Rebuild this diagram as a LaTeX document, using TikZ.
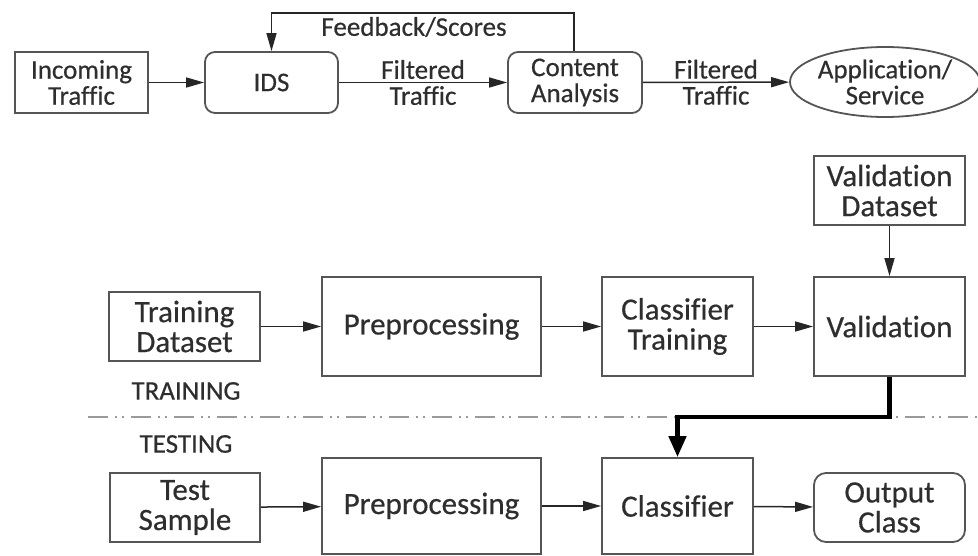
\documentclass[tikz,border=0pt]{standalone}
\usepackage{fontspec}
\setmainfont{Carlito}[Ligatures=NoCommon, FakeBold=0.5]
\usetikzlibrary{arrows.meta,shapes.geometric}
\definecolor{boxline}{HTML}{555555}
\definecolor{txt}{HTML}{2E2E2E}
\definecolor{sepline}{HTML}{9A9A9A}
\tikzset{
  base/.style={draw=boxline, line width=1.8pt, text=txt, align=center, inner sep=0pt},
  topbox/.style={base, rectangle, minimum width=133pt, minimum height=61pt,
    font=\fontsize{27}{26}\selectfont},
  roundbox/.style={topbox, rounded corners=10pt},
  lowbox/.style={base, rectangle, minimum width=151pt, minimum height=69pt,
    font=\fontsize{31}{30}\selectfont},
  bigbox/.style={base, rectangle, minimum width=151pt, minimum height=99pt,
    font=\fontsize{31}{30}\selectfont},
  flowlabel/.style={text=txt, align=center, font=\fontsize{27}{26}\selectfont},
  phase/.style={text=txt, font=\fontsize{27}{27}\selectfont},
  arrow/.style={draw=black!85, line width=1.5pt, -{Triangle[length=18pt,width=10pt]}},
  thickarrow/.style={draw=black, line width=4.5pt, -{Triangle[length=21pt,width=17pt]}},
}
\begin{document}
\begin{tikzpicture}[x=1pt, y=-1pt]
\useasboundingbox (0,0) rectangle (978,556);

% network filtering chain
\node[topbox] (inc) at (81.5,82.5) {Incoming\\Traffic};
\node[roundbox] (ids) at (271.5,82.5) {IDS};
\node[roundbox, minimum width=134pt] (ca) at (575,82.5) {Content\\Analysis};
\node[base, ellipse, minimum width=184pt, minimum height=70pt,
  font=\fontsize{27}{26}\selectfont] (app) at (885,82) {Application/\\Service};

\draw[arrow] (inc) -- (ids);
\draw[arrow] (ids) -- (ca) node[midway, flowlabel] {Filtered\\Traffic};
\draw[arrow] (ca) -- (app) node[midway, flowlabel] {Filtered\\Traffic};
\coordinate (fbtop) at (574,13);
\draw[arrow] (ca.north -| fbtop) -- (fbtop) -| (ids.north);
\node[flowlabel] (fblabel) at (414,27) {Feedback/Scores};

% training stage
\node[lowbox] (vd) at (889.5,190.5) {Validation\\Dataset};
\node[lowbox] (td) at (184.5,326.5) {Training\\Dataset};
\node[bigbox, minimum width=219pt] (pre1) at (431.5,326.5) {Preprocessing};
\node[bigbox] (ct) at (677.5,326.5) {Classifier\\Training};
\node[bigbox] (val) at (889.5,326.5) {Validation};

\draw[arrow] (td) -- (pre1);
\draw[arrow] (pre1) -- (ct);
\draw[arrow] (ct) -- (val);
\draw[arrow] (vd) -- (val);

% split between the two stages
\node[phase] (trainlabel) at (186,391) {TRAINING};
\node[phase] (testlabel) at (186,444) {TESTING};
\coordinate (sepL) at (88,417);
\coordinate (sepR) at (978,417);
\draw[sepline, line width=1.8pt,
  dash pattern=on 20pt off 7pt on 2pt off 5pt on 2pt off 7pt] (sepL) -- (sepR);

% testing stage
\node[lowbox, minimum width=150pt] (ts) at (185,507.5) {Test\\Sample};
\node[bigbox, minimum width=219pt, minimum height=96pt] (pre2) at (431.5,506) {Preprocessing};
\node[bigbox, minimum height=96pt] (cl) at (677.5,506) {Classifier};
\node[lowbox, rounded corners=12pt] (oc) at (889.5,507.5) {Output\\Class};

\draw[arrow] (ts) -- (pre2);
\draw[arrow] (pre2) -- (cl);
\draw[arrow] (cl) -- (oc);
\draw[thickarrow] (val.south) -- (val.south |- sepL) -| (cl.north);
\end{tikzpicture}
\end{document}
